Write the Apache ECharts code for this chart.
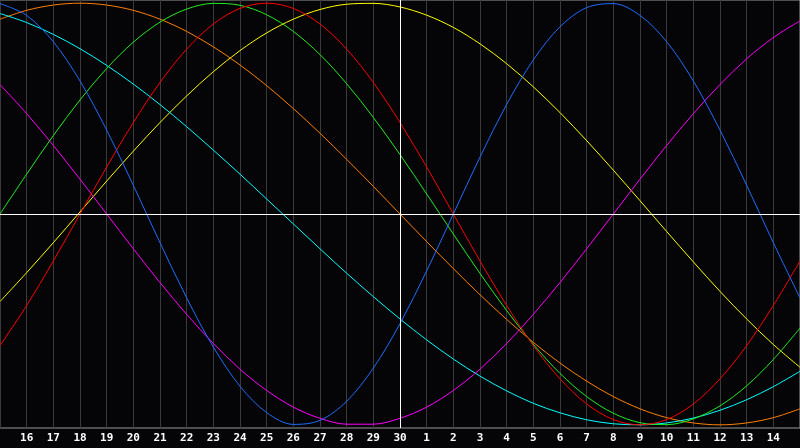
<!DOCTYPE html>
<html>
<head>
<meta charset="utf-8">
<script src="https://cdn.jsdelivr.net/npm/echarts@6/dist/echarts.min.js"></script>
<style>
  html, body { margin: 0; padding: 0; background: #050508; }
  #chart { width: 800px; height: 448px; }
</style>
</head>
<body>
<div id="chart"></div>
<script>
// days shown on the axis (index 0 = the 15th, index 30 = the 15th of the next month)
var dayLabels = ['', '16', '17', '18', '19', '20', '21', '22', '23', '24', '25', '26', '27', '28', '29', '30',
                 '1', '2', '3', '4', '5', '6', '7', '8', '9', '10', '11', '12', '13', '14', ''];

// one value per day
var physical = [0.998, 0.942, 0.817, 0.631, 0.398, 0.136, -0.136, -0.398, -0.631, -0.817, -0.942,
                -0.998, -0.979, -0.888, -0.731, -0.520, -0.270, 0, 0.270, 0.520, 0.731,
                0.888, 0.979, 0.998, 0.942, 0.817, 0.631, 0.398, 0.136, -0.136, -0.398];
var emotional = [-0.624, -0.434, -0.223, 0, 0.223, 0.434, 0.624, 0.782, 0.901, 0.975, 1,
                 0.975, 0.901, 0.782, 0.624, 0.434, 0.223, 0, -0.223, -0.434, -0.624,
                 -0.782, -0.901, -0.975, -1, -0.975, -0.901, -0.782, -0.624, -0.434, -0.223];
var intellectual = [0, 0.189, 0.372, 0.541, 0.690, 0.815, 0.910, 0.972, 0.999, 0.990, 0.945,
                    0.866, 0.756, 0.618, 0.458, 0.282, 0.095, -0.095, -0.282, -0.458, -0.618,
                    -0.756, -0.866, -0.945, -0.990, -0.999, -0.972, -0.910, -0.815, -0.690, -0.541];
var intuitive = [0.614, 0.476, 0.325, 0.165, 0, -0.165, -0.325, -0.476, -0.614, -0.736, -0.837,
                 -0.916, -0.969, -0.997, -0.997, -0.969, -0.916, -0.837, -0.736, -0.614, -0.476,
                 -0.325, -0.165, 0, 0.165, 0.325, 0.476, 0.614, 0.736, 0.837, 0.916];
var aesthetic = [-0.415, -0.278, -0.136, 0.010, 0.156, 0.298, 0.434, 0.560, 0.675, 0.775, 0.859,
                 0.924, 0.970, 0.995, 0.999, 0.982, 0.943, 0.885, 0.807, 0.713, 0.603,
                 0.481, 0.348, 0.208, 0.063, -0.083, -0.227, -0.367, -0.498, -0.619, -0.727];
var awareness = [0.924, 0.966, 0.991, 1, 0.991, 0.966, 0.924, 0.866, 0.793, 0.707, 0.609,
                 0.5, 0.383, 0.259, 0.131, 0, -0.131, -0.259, -0.383, -0.5, -0.609,
                 -0.707, -0.793, -0.866, -0.924, -0.966, -0.991, -1, -0.991, -0.966, -0.924];
var spiritual = [0.951, 0.908, 0.852, 0.784, 0.705, 0.616, 0.519, 0.414, 0.303, 0.189, 0.071,
                 -0.047, -0.165, -0.281, -0.392, -0.498, -0.597, -0.688, -0.769, -0.839, -0.898,
                 -0.943, -0.976, -0.995, -1.000, -0.991, -0.968, -0.931, -0.881, -0.819, -0.746];

var curves = [
  { name: 'aesthetic', data: aesthetic, color: '#ffff00' },
  { name: 'awareness', data: awareness, color: '#ff8000' },
  { name: 'spiritual', data: spiritual, color: '#00ffff' },
  { name: 'intuitive', data: intuitive, color: '#ff00ff' },
  { name: 'intellectual', data: intellectual, color: '#22ee22' },
  { name: 'emotional', data: emotional, color: '#ff0000' },
  { name: 'physical', data: physical, color: '#1e6eff' }
];

var series = curves.map(function (c) {
  return {
    name: c.name,
    type: 'line',
    smooth: 0.33,
    showSymbol: false,
    silent: true,
    data: c.data.map(function (v, i) { return [i, v]; }),
    lineStyle: { color: c.color, width: 1 },
    z: 3
  };
});

// white cross: zero line and today
series.push({
  type: 'line',
  data: [],
  silent: true,
  z: 2,
  markLine: {
    silent: true,
    symbol: 'none',
    label: { show: false },
    lineStyle: { color: '#ffffff', width: 1, type: 'solid' },
    data: [{ yAxis: 0 }, { xAxis: 15 }]
  }
});

var option = {
  backgroundColor: '#050508',
  animation: false,
  grid: {
    left: 0, right: 0, top: 0, bottom: 20,
    show: true,
    borderColor: '#999999',
    borderWidth: 1,
    backgroundColor: '#050508'
  },
  xAxis: {
    type: 'value',
    min: 0,
    max: 30,
    interval: 1,
    axisLine: { show: true, lineStyle: { color: '#999999' } },
    axisTick: { show: false },
    splitLine: { show: true, lineStyle: { color: '#3a3a3a', width: 1 } },
    axisLabel: {
      color: '#ffffff',
      fontFamily: 'DejaVu Sans Mono',
      fontWeight: 'bold',
      fontSize: 11,
      margin: 5,
      showMinLabel: false,
      showMaxLabel: false,
      formatter: function (v) { return dayLabels[v] || ''; }
    }
  },
  yAxis: {
    type: 'value',
    min: -1.015,
    max: 1.015,
    show: false,
    splitLine: { show: false }
  },
  series: series
};

var myChart = echarts.init(document.getElementById('chart'));
myChart.setOption(option);
</script>
</body>
</html>
